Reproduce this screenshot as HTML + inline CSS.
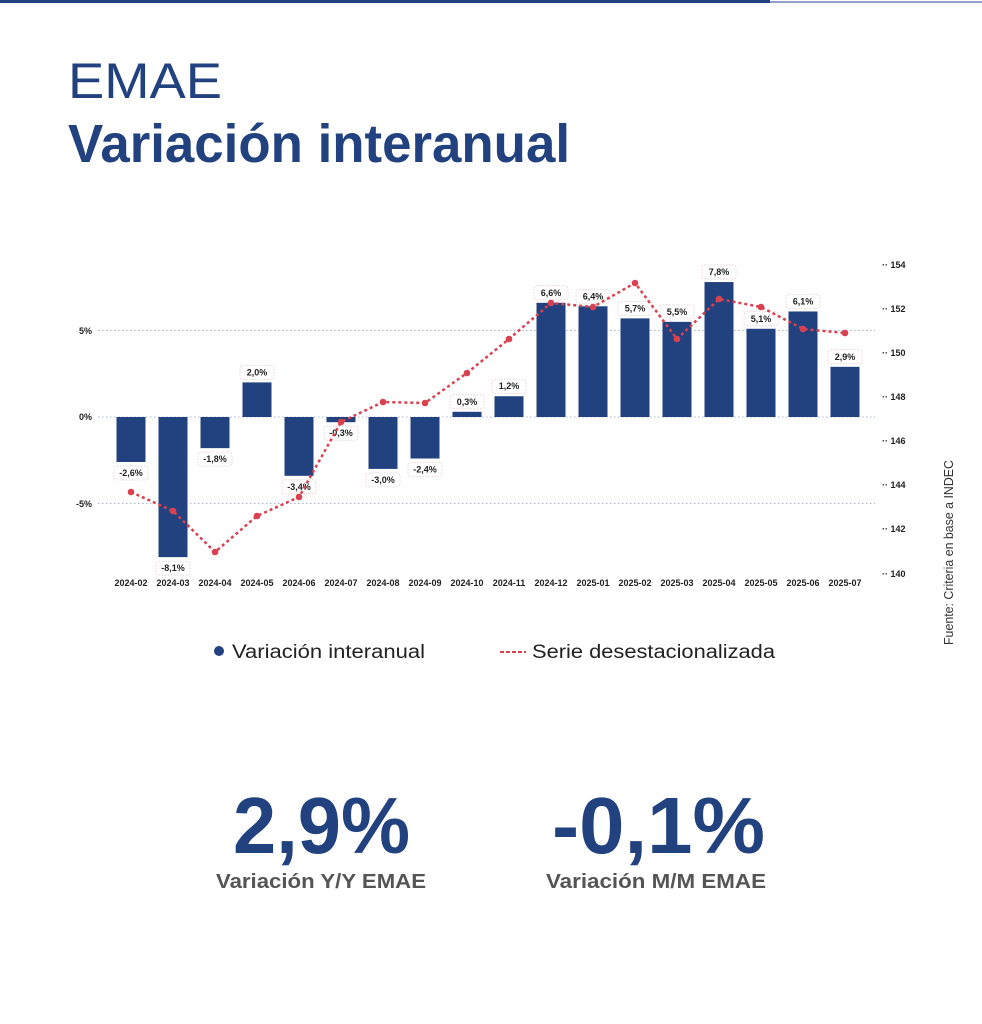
<!DOCTYPE html>
<html><head><meta charset="utf-8"><style>
html,body{margin:0;padding:0;background:#fff}
svg{display:block}
text{font-family:"Liberation Sans",sans-serif}
</style></head><body>
<svg width="982" height="1024" viewBox="0 0 982 1024" xmlns="http://www.w3.org/2000/svg">
<rect x="0" y="0" width="770" height="3" fill="#21427f"/>
<rect x="770" y="1" width="212" height="2" fill="#8fa3c8"/>
<text x="68" y="98" font-size="50" fill="#21427f" textLength="154" lengthAdjust="spacingAndGlyphs">EMAE</text>
<text x="68" y="162" font-size="54" font-weight="bold" fill="#21427f" textLength="502" lengthAdjust="spacingAndGlyphs">Variación interanual</text>

<g stroke="#a9b4cc" stroke-width="1" stroke-dasharray="1.5,2.5">
<line x1="98" y1="330.5" x2="875" y2="330.5"/>
<line x1="98" y1="417" x2="875" y2="417"/>
<line x1="98" y1="503.5" x2="875" y2="503.5"/>
</g>
<g font-size="9" font-weight="bold" fill="#222" text-anchor="end">
<text x="92" y="334">5%</text><text x="92" y="420">0%</text><text x="92" y="507">-5%</text>
</g>
<g font-size="9" font-weight="bold" fill="#222">
<text x="882" y="268">·· 154</text><text x="882" y="312">·· 152</text><text x="882" y="356">·· 150</text><text x="882" y="400">·· 148</text><text x="882" y="444">·· 146</text><text x="882" y="488">·· 144</text><text x="882" y="532">·· 142</text><text x="882" y="577">·· 140</text>
</g>
<g fill="#21427f" id="bars"></g>
<g id="lbls"></g>
<polyline id="ln" fill="none" stroke="#d94050" stroke-width="2.5" stroke-dasharray="3,3"/>
<g id="dots" fill="#d94050"></g>
<g id="xl" font-size="9" font-weight="bold" fill="#222" text-anchor="middle"></g>

<circle cx="219" cy="651" r="5" fill="#21427f"/>
<text x="232" y="658" font-size="19" fill="#222" textLength="193" lengthAdjust="spacingAndGlyphs">Variación interanual</text>
<line x1="500" y1="652" x2="526" y2="652" stroke="#d94050" stroke-width="2" stroke-dasharray="4,2"/>
<text x="532" y="658" font-size="19" fill="#222" textLength="243" lengthAdjust="spacingAndGlyphs">Serie desestacionalizada</text>

<text x="233" y="853" font-size="80" font-weight="bold" fill="#21427f" textLength="177" lengthAdjust="spacingAndGlyphs">2,9%</text>
<text x="552" y="853" font-size="80" font-weight="bold" fill="#21427f" textLength="213" lengthAdjust="spacingAndGlyphs">-0,1%</text>
<text x="216" y="888" font-size="20" font-weight="bold" fill="#555" textLength="210" lengthAdjust="spacingAndGlyphs">Variación Y/Y EMAE</text>
<text x="546" y="888" font-size="20" font-weight="bold" fill="#555" textLength="220" lengthAdjust="spacingAndGlyphs">Variación M/M EMAE</text>

<text transform="translate(953,645) rotate(-90)" font-size="13" fill="#333" textLength="185" lengthAdjust="spacingAndGlyphs">Fuente: Criteria en base a INDEC</text>
</svg>
<script>
(function(){
var NS="http://www.w3.org/2000/svg";
var v=[-2.6,-8.1,-1.8,2.0,-3.4,-0.3,-3.0,-2.4,0.3,1.2,6.6,6.4,5.7,5.5,7.8,5.1,6.1,2.9];
var ly=[492,511,552,516,497,422,402,403,373,339,303,307,283,339,299,307,329,333];
var lab=["2024-02","2024-03","2024-04","2024-05","2024-06","2024-07","2024-08","2024-09","2024-10","2024-11","2024-12","2025-01","2025-02","2025-03","2025-04","2025-05","2025-06","2025-07"];
function el(t,a,p){var e=document.createElementNS(NS,t);for(var k in a)e.setAttribute(k,a[k]);document.getElementById(p).appendChild(e);return e;}
var pts=[];
for(var i=0;i<18;i++){
 var cx=131+i*42,y0=417,h=v[i]*17.3,by=h>0?y0-h:y0;
 el("rect",{x:cx-14.5,y:by,width:29,height:Math.abs(h)},"bars");
 var s=v[i].toFixed(1).replace(".",",")+"%";
 var ty=v[i]>0?by-17:y0-h+4;
 el("rect",{x:cx-17,y:ty,width:34,height:14,rx:3,fill:"#fff",stroke:"#e8c8cc","stroke-width":0.8,"stroke-dasharray":"1.5,1.5"},"lbls");
 var t=el("text",{x:cx,y:ty+10,"font-size":9,"font-weight":"bold",fill:"#222","text-anchor":"middle"},"lbls");t.textContent=s;
 pts.push(cx+","+ly[i]);
 el("circle",{cx:cx,cy:ly[i],r:3.3},"dots");
 var xt=el("text",{x:cx,y:586},"xl");xt.textContent=lab[i];
}
document.getElementById("ln").setAttribute("points",pts.join(" "));
})();
</script>
</body></html>
